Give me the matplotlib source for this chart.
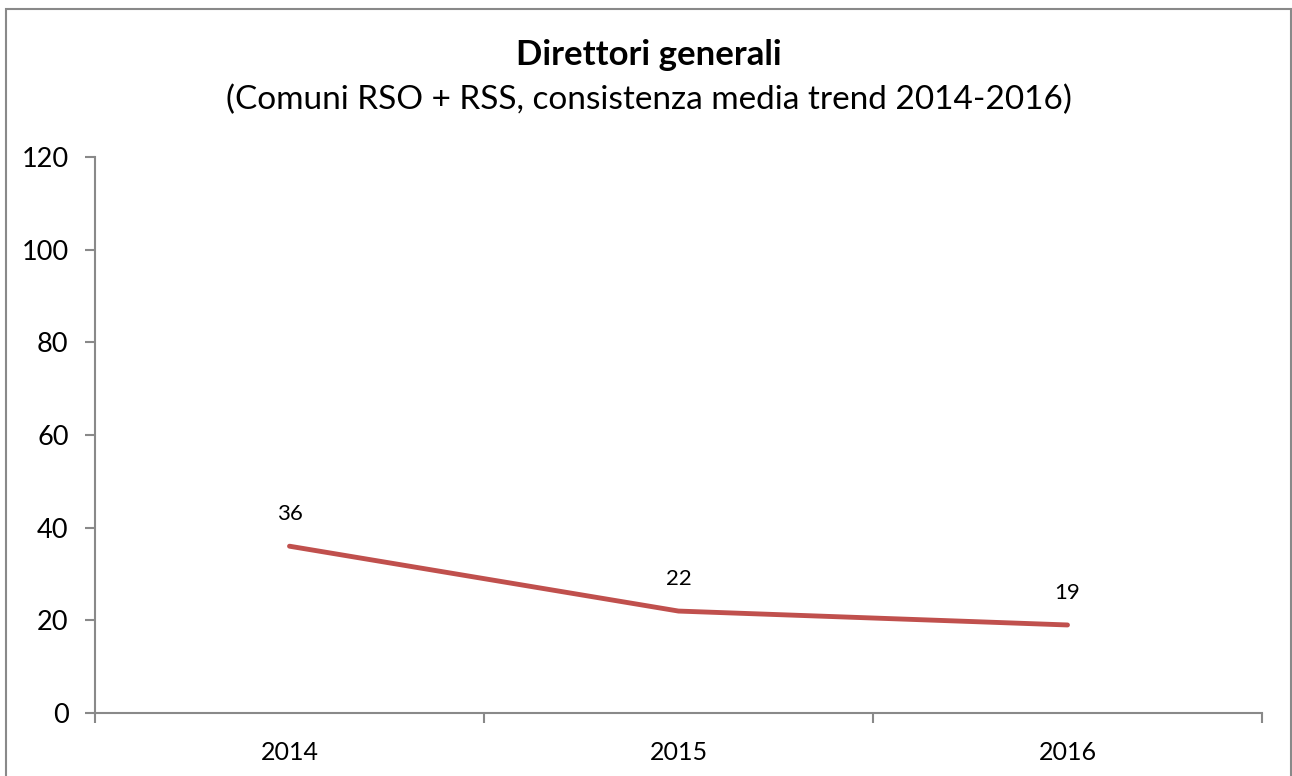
import matplotlib
matplotlib.use("Agg")
import matplotlib.pyplot as plt
from matplotlib.patches import Rectangle

years = ["2014", "2015", "2016"]
values = [36, 22, 19]
y_ticks = [0, 20, 40, 60, 80, 100, 120]
title = "Direttori generali"
subtitle = "(Comuni RSO + RSS, consistenza media trend 2014-2016)"

plt.rcParams['font.family'] = ['Lato', 'DejaVu Sans']
W, H = 1292, 776
fig = plt.figure(figsize=(W / 100, H / 100), dpi=100)
ax = fig.add_axes([95 / W, 1 - 713 / H, (1262 - 95) / W, (713 - 157) / H])

grey = "#898989"
x = list(range(len(years)))
ax.plot(x, values, color="#C0504D", linewidth=3.5, solid_capstyle="round")
for xi, v in zip(x, values):
    ax.annotate(str(v), (xi, v), xytext=(0, 23), textcoords="offset points",
                ha="center", va="center", fontsize=16)

ax.set_xlim(-0.5, len(years) - 0.5)
ax.set_ylim(0, 120)
ax.set_yticks(y_ticks)
ax.set_yticklabels([str(t) for t in y_ticks], fontsize=19.5)
ax.set_xticks(x)
ax.set_xticklabels(years, fontsize=18)
ax.set_xticks([i - 0.5 for i in range(len(years) + 1)], minor=True)
ax.tick_params(axis="x", which="major", length=0, pad=20)
ax.tick_params(axis="x", which="minor", length=7, width=1.5, color=grey, direction="out")
ax.tick_params(axis="y", length=7, width=1.5, color=grey, direction="out", pad=12)
for s in ["top", "right"]:
    ax.spines[s].set_visible(False)
for s in ["left", "bottom"]:
    ax.spines[s].set_color(grey)
    ax.spines[s].set_linewidth(1.5)

fig.text(649 / W, 1 - 55 / H, title, ha="center", va="center", fontsize=25, fontweight="bold")
fig.text(649 / W, 1 - 100 / H, subtitle, ha="center", va="center", fontsize=24)

fig.patches.append(Rectangle((6 / W, -0.05), (1291 - 6) / W, 1.05 - 9 / H,
                             transform=fig.transFigure, fill=False,
                             edgecolor=grey, linewidth=1.5))
fig.savefig("out.png", dpi=100)
